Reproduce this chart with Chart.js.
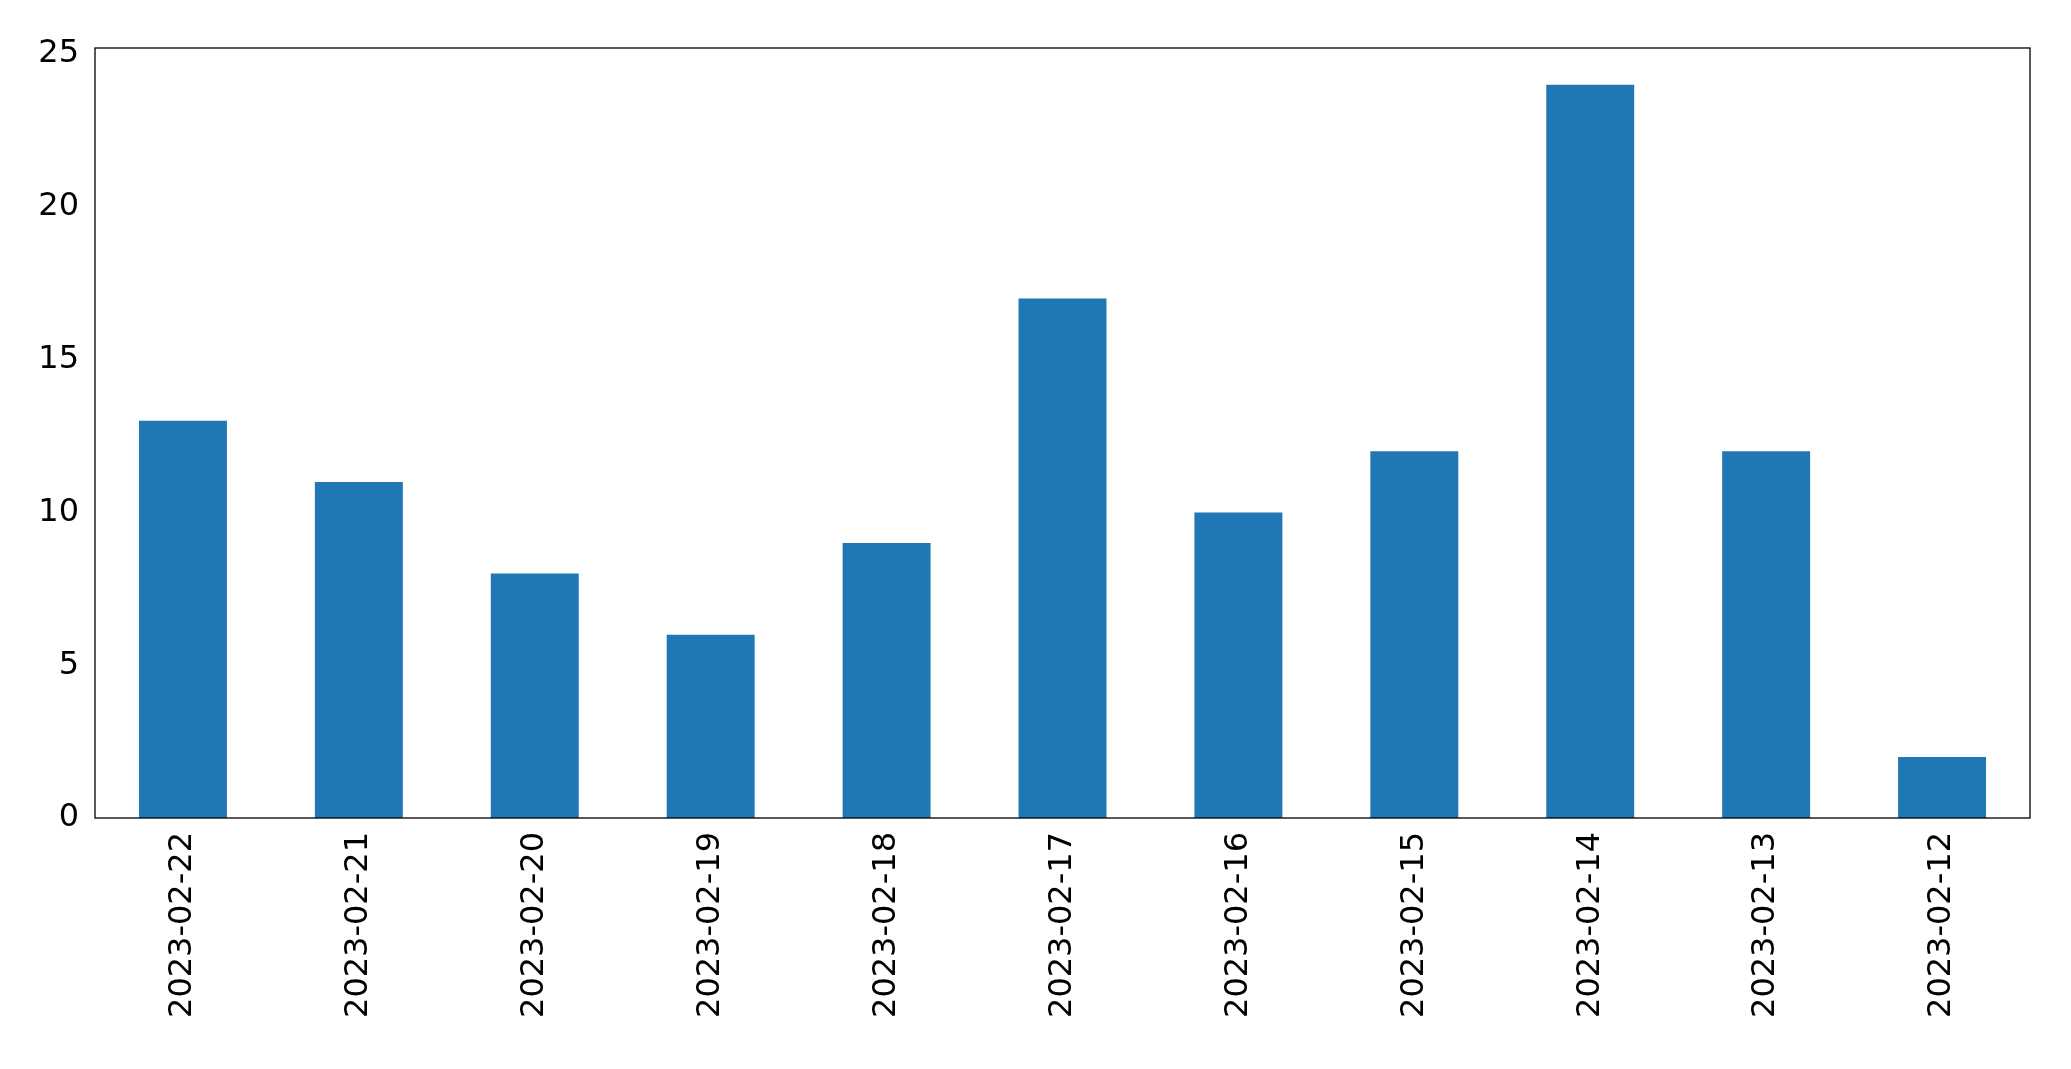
<!DOCTYPE html>
<html><head><meta charset="utf-8">
<script src="https://cdn.jsdelivr.net/npm/chart.js@4"></script>
<style>html,body{margin:0;padding:0;background:#fff}#w{width:2071px;height:1069px}</style>
</head><body><div id="w"><canvas id="c"></canvas></div>
<script>
const categories=["2023-02-22","2023-02-21","2023-02-20","2023-02-19","2023-02-18","2023-02-17","2023-02-16","2023-02-15","2023-02-14","2023-02-13","2023-02-12"];
const values=[13,11,8,6,9,17,10,12,24,12,2];
const yTicks=[0,5,10,15,20,25];
Chart.defaults.font.family="'DejaVu Sans'";
Chart.defaults.color="#000";
const frame={id:'frame',afterDraw(c){const a=c.chartArea,x=c.ctx;x.save();x.strokeStyle='#000';x.lineWidth=1.3;x.strokeRect(a.left,a.top,a.right-a.left,a.bottom-a.top);x.restore();}};
new Chart(document.getElementById('c'),{type:'bar',
data:{labels:categories,datasets:[{data:values,backgroundColor:'#1f77b4',categoryPercentage:1,barPercentage:0.5}]},
options:{responsive:true,maintainAspectRatio:false,animation:false,
layout:{padding:{top:48,right:41,left:0,bottom:0}},
plugins:{legend:{display:false},tooltip:{enabled:false}},
scales:{
x:{grid:{display:false,drawTicks:true},border:{display:false},
ticks:{maxRotation:90,minRotation:90,font:{size:32},padding:6},
afterFit(s){s.height=251;}},
y:{min:0,max:25.2,grid:{display:false},border:{display:false},
afterBuildTicks(s){s.ticks=yTicks.map(v=>({value:v}));},
ticks:{font:{size:32},padding:8},
afterFit(s){s.width=95;}}
}},plugins:[frame]});
</script></body></html>
